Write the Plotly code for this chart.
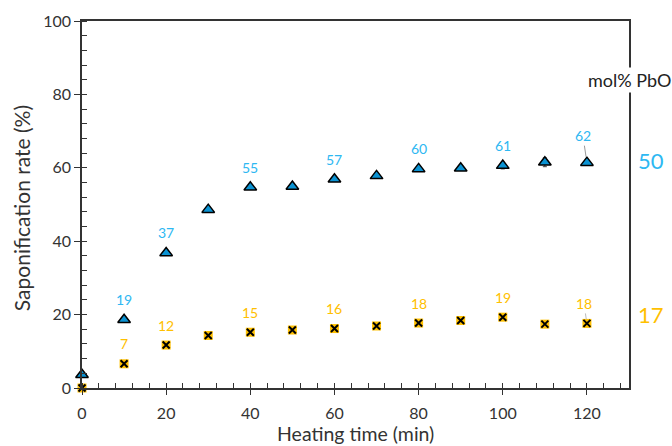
import plotly.graph_objects as go

time = [0, 10, 20, 30, 40, 50, 60, 70, 80, 90, 100, 110, 120]
pbo50 = [3.6, 18.6, 36.8, 48.6, 54.7, 54.9, 56.9, 57.8, 59.7, 59.9, 60.6, 61.5, 61.4]
pbo17 = [0.0, 6.6, 11.7, 14.3, 15.2, 15.8, 16.2, 16.9, 17.7, 18.4, 19.3, 17.4, 17.6]
err50 = [0.4, 0.6, 0.6, 0.5, 0.5, 0.4, 0.4, 0.5, 0.5, 0.4, 0.9, 1.2, 0.7]
err17 = [0.2, 0.4, 0.4, 0.5, 0.4, 0.4, 0.8, 0.4, 0.4, 0.4, 0.5, 0.4, 0.4]

label_x = [10, 20, 40, 60, 80, 100, 120]
labels50 = ["19", "37", "55", "57", "60", "61", "62"]
labels17 = ["7", "12", "15", "16", "18", "19", "18"]

BLUE_TXT = "#2EB8F2"
BLUE_FILL = "#0B93D3"
ORANGE = "#FFC000"
FONT = "Lato"
TXT = "#333333"

fig = go.Figure()

fig.add_trace(go.Scatter(
    x=time, y=pbo17, mode="markers", cliponaxis=False,
    error_y=dict(type="data", array=err17, color="#888888", thickness=1, width=2),
    marker=dict(symbol="square", size=9, color=ORANGE, line=dict(width=0)),
    showlegend=False, hoverinfo="skip"))
fig.add_trace(go.Scatter(
    x=time, y=pbo17, mode="markers", cliponaxis=False,
    marker=dict(symbol="x-thin", size=7, color="black", line=dict(width=2, color="black")),
    showlegend=False))
fig.add_trace(go.Scatter(
    x=time, y=pbo50, mode="markers", cliponaxis=False,
    error_y=dict(type="data", array=err50, color="#444444", thickness=1, width=2),
    marker=dict(symbol="triangle-up", size=11, color=BLUE_FILL, line=dict(width=1.5, color="black")),
    showlegend=False))

# invisible trace on overlaying axis to draw "cross" major ticks
fig.add_trace(go.Scatter(x=[0], y=[0], xaxis="x2", yaxis="y2", mode="markers",
                         marker=dict(opacity=0), showlegend=False, hoverinfo="skip"))

lookup50 = dict(zip(time, pbo50))
lookup17 = dict(zip(time, pbo17))
for xv, t in zip(label_x, labels50):
    if t == "62":
        fig.add_annotation(x=xv, y=lookup50[xv], text=t, showarrow=True, arrowhead=0,
                           arrowwidth=1, arrowcolor="#999999", ax=-4, ay=-27, standoff=6,
                           font=dict(family=FONT, size=14, color=BLUE_TXT))
    else:
        fig.add_annotation(x=xv, y=lookup50[xv], text=t, showarrow=False, yshift=20,
                           font=dict(family=FONT, size=14, color=BLUE_TXT))
for xv, t in zip(label_x, labels17):
    if xv == 120:
        fig.add_annotation(x=xv, y=lookup17[xv], text=t, showarrow=True, arrowhead=0,
                           arrowwidth=1, arrowcolor="#bbbbbb", ax=-3, ay=-20, standoff=4,
                           font=dict(family=FONT, size=14, color=ORANGE))
    else:
        fig.add_annotation(x=xv, y=lookup17[xv], text=t, showarrow=False, yshift=20,
                           font=dict(family=FONT, size=14, color=ORANGE))

fig.add_annotation(xref="paper", yref="paper", x=1.0, y=0.875, text="mol% PbO",
                   showarrow=False, bgcolor="white", xanchor="center",
                   font=dict(family=FONT, size=18, color="#222222"))
fig.add_annotation(xref="paper", yref="y", x=1.0, xshift=22, y=62, text="50",
                   showarrow=False, xanchor="center",
                   font=dict(family=FONT, size=22, color=BLUE_TXT))
fig.add_annotation(xref="paper", yref="y", x=1.0, xshift=22, y=20, text="17",
                   showarrow=False, xanchor="center",
                   font=dict(family=FONT, size=22, color=ORANGE))

# axis titles
fig.add_annotation(xref="paper", yref="paper", x=0.5, y=0, yshift=-45, text="Heating time (min)",
                   showarrow=False, xanchor="center", yanchor="middle",
                   font=dict(family=FONT, size=19.5, color=TXT))
fig.add_annotation(xref="paper", yref="paper", x=0, xshift=-61, y=0.49, text="Saponification rate (%)",
                   showarrow=False, xanchor="center", yanchor="middle", textangle=-90,
                   font=dict(family=FONT, size=21, color=TXT))

fig.update_layout(
    width=672, height=446,
    margin=dict(l=82, r=43, t=21, b=58),
    paper_bgcolor="white", plot_bgcolor="white",
    font=dict(family=FONT, size=16, color=TXT),
    xaxis=dict(range=[0, 130], dtick=20, tick0=0, showgrid=False, zeroline=False,
               showline=True, linecolor="#333333", linewidth=1.5, mirror=True,
               automargin=False,
               ticks="outside", ticklen=5, tickwidth=1.3, tickcolor="#333333",
               ticklabelstandoff=5,
               minor=dict(dtick=4, tick0=0, ticks="inside", ticklen=5, tickwidth=1, tickcolor="#333333"),
               tickfont=dict(family=FONT, size=16, color=TXT)),
    yaxis=dict(range=[0, 100], dtick=20, tick0=0, showgrid=False, zeroline=False,
               showline=True, linecolor="#333333", linewidth=1.5, mirror=True,
               automargin=False,
               ticks="outside", ticklen=6, tickwidth=1.3, tickcolor="#333333",
               minor=dict(dtick=4, tick0=0, ticks="inside", ticklen=5, tickwidth=1, tickcolor="#333333"),
               tickfont=dict(family=FONT, size=16, color=TXT)),
    xaxis2=dict(range=[0, 130], overlaying="x", anchor="y2", dtick=20, tick0=0, showgrid=False,
                zeroline=False, showline=False, ticks="inside", ticklen=5, tickwidth=1.3,
                tickcolor="#333333", showticklabels=False, automargin=False),
    yaxis2=dict(range=[0, 100], overlaying="y", anchor="x2", showgrid=False, zeroline=False,
                showline=False, ticks="", showticklabels=False, automargin=False),
)

fig.write_html("out.html")
